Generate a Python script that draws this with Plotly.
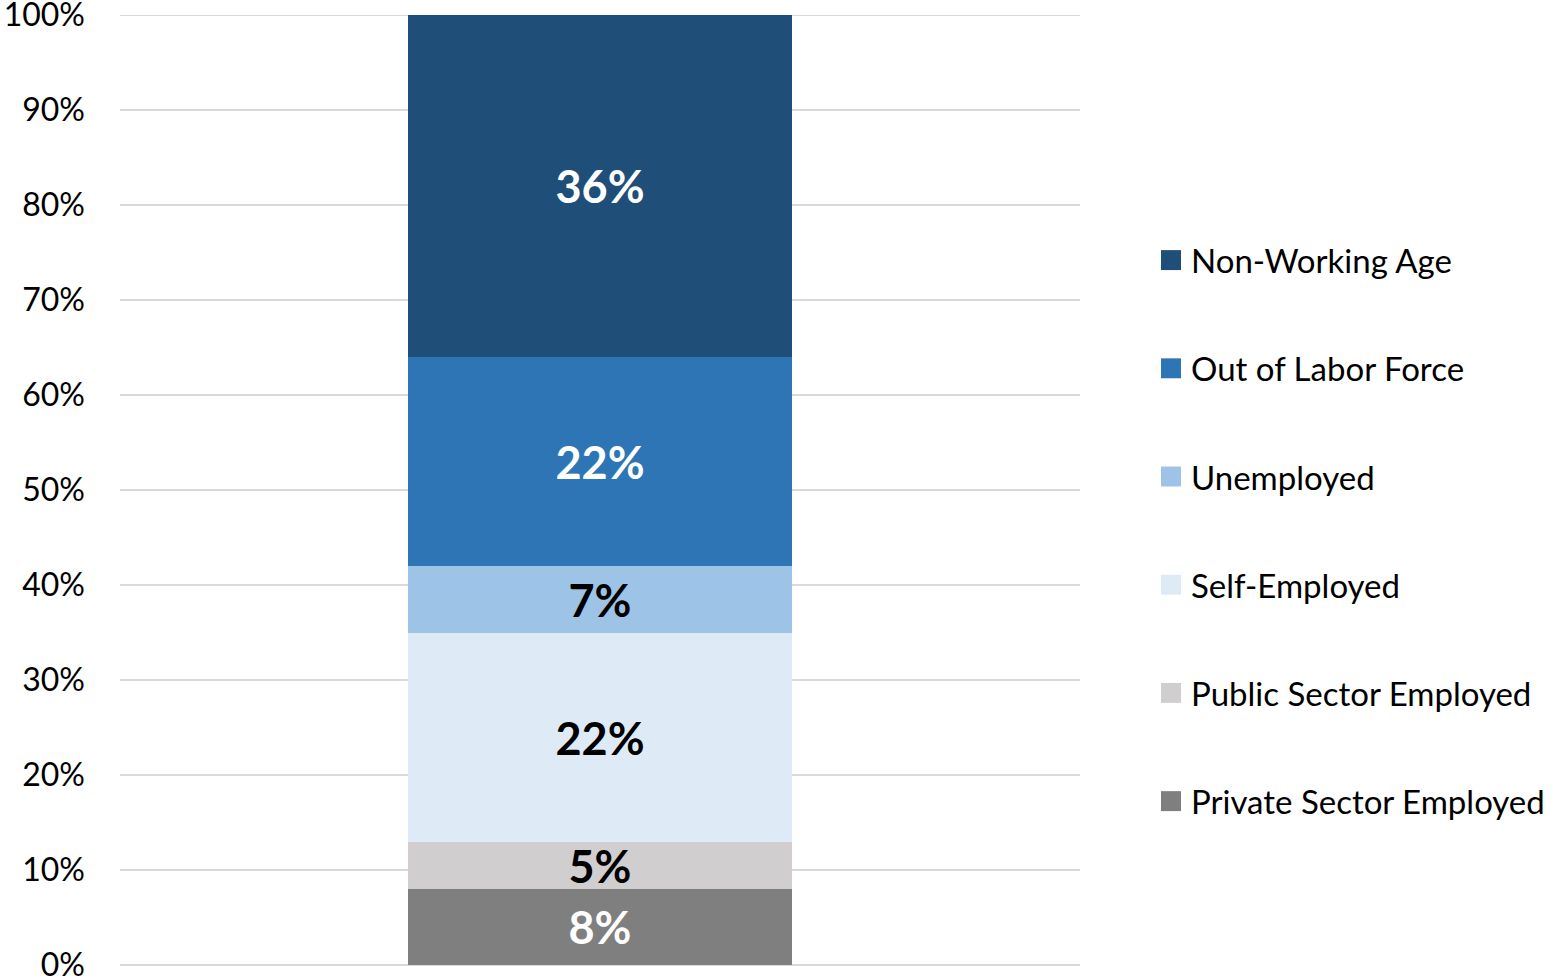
import plotly.graph_objects as go

# Population breakdown, stacked from the bottom up
segments = ["Private Sector Employed", "Public Sector Employed", "Self-Employed",
            "Unemployed", "Out of Labor Force", "Non-Working Age"]
shares = [8, 5, 22, 7, 22, 36]
colors = ["#7F7F7F", "#D0CECE", "#DEEBF7", "#9DC3E6", "#2E75B6", "#1F4E79"]
label_colors = ["white", "black", "black", "black", "white", "white"]
category = [""]

FONT = "Lato"
TEXT_SIZE = 32

fig = go.Figure()
for name, val, col, tcol in zip(segments, shares, colors, label_colors):
    fig.add_trace(go.Bar(
        x=category, y=[val], name=name,
        marker=dict(color=col, line=dict(width=0)),
        width=0.4,
        text=[f"<b>{val}%</b>"], textposition="inside",
        insidetextanchor="middle", textangle=0, constraintext="none",
        textfont=dict(family=FONT, size=45, color=tcol),
        showlegend=False, hoverinfo="skip",
    ))

# Legend drawn as swatches + labels, top entry = top segment
top_y, step = 0.742, 0.1139
for i, (name, col) in enumerate(zip(reversed(segments), reversed(colors))):
    yc = top_y - i * step
    fig.add_shape(type="rect", xref="paper", yref="paper",
                  x0=1.0844, x1=1.1052, y0=yc - 0.0105, y1=yc + 0.0105,
                  fillcolor=col, line=dict(width=0))
    fig.add_annotation(xref="paper", yref="paper", x=1.1135, y=yc,
                       text=name, showarrow=False, xanchor="left", yanchor="middle",
                       font=dict(family=FONT, size=TEXT_SIZE + 1, color="black"))

# Gridline at the top of the scale, under the bar
fig.add_shape(type="line", xref="paper", yref="y", x0=0, x1=1, y0=100, y1=100,
              line=dict(color="#D9D9D9", width=2), layer="below")

fig.update_layout(
    barmode="stack",
    width=1564, height=980,
    margin=dict(l=120, r=484, t=15, b=15, autoexpand=False),
    plot_bgcolor="white", paper_bgcolor="white",
    font=dict(family=FONT, size=TEXT_SIZE, color="black"),
    bargap=0,
)
fig.update_xaxes(showticklabels=False, showgrid=False, zeroline=False,
                 range=[-0.5, 0.5], fixedrange=True, automargin=False)
fig.update_yaxes(range=[0, 100], dtick=10, ticksuffix="%",
                 showgrid=True, gridcolor="#D9D9D9", gridwidth=2,
                 zeroline=True, zerolinecolor="#D9D9D9", zerolinewidth=2,
                 showline=False, ticks="", automargin=False,
                 ticklabelstandoff=34, ticklabeloverflow="allow",
                 tickfont=dict(family=FONT, size=TEXT_SIZE, color="black"))

fig.write_html("out.html")
